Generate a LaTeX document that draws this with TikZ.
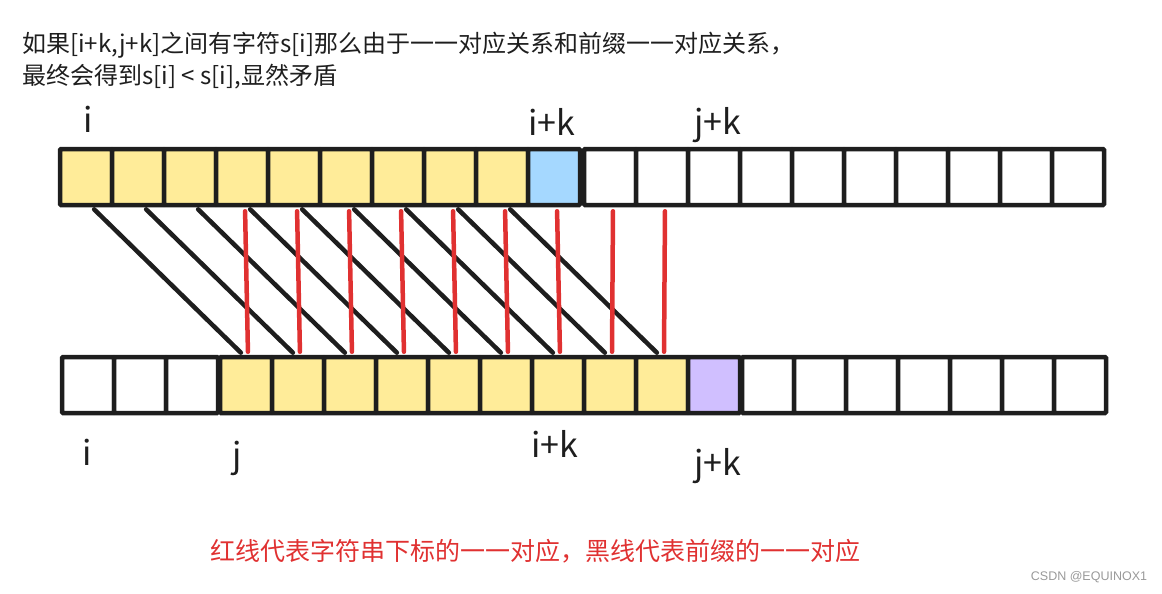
\documentclass[tikz,border=0pt]{standalone}
\usepackage{fontspec}
\newfontfamily\cjk{Noto Sans CJK SC}
\setsansfont{Liberation Sans}
\definecolor{inkblack}{HTML}{1E1E1E}
\definecolor{cellyellow}{HTML}{FFEC99}
\definecolor{cellblue}{HTML}{A5D8FF}
\definecolor{cellpurple}{HTML}{D0BFFF}
\definecolor{linered}{HTML}{E03131}
\tikzset{
  cell/.style={draw=inkblack, line width=4.5pt, minimum width=52pt, minimum height=56pt, inner sep=0pt, rounded corners=1pt},
  pfxline/.style={draw=inkblack, line width=4.5pt, line cap=round, shorten <=3pt, shorten >=3pt},
  idxline/.style={draw=linered, line width=4.5pt, line cap=round, shorten <=4pt, shorten >=3pt},
  idxlabel/.style={text=inkblack, font=\cjk\fontsize{34}{34}\selectfont},
  note/.style={text=inkblack, anchor=west, inner sep=0pt, font=\cjk\fontsize{24}{28}\selectfont}
}

\begin{document}
\begin{tikzpicture}[x=1pt,y=-1pt]
\useasboundingbox (0,0) rectangle (1162,594);

\node[note] (line1) at (22,45) {如果[i+k,j+k]之间有字符s[i]那么由于一一对应关系和前缀一一对应关系，};
\node[note] (line2) at (22,77) {最终会得到s[i] < s[i],显然矛盾};

\foreach \k in {0,...,8} \node[cell, fill=cellyellow] (top\k) at ({86+52*\k},177) {};
\node[cell, fill=cellblue] (top9) at (554,177) {};
\foreach \k in {10,...,19} \node[cell, fill=white] (top\k) at ({610+52*(\k-10)},177) {};

\foreach \k in {0,1,2} \node[cell, fill=white] (bot\k) at ({88+52*\k},385) {};
\foreach \k in {3,...,11} \node[cell, fill=cellyellow] (bot\k) at ({246+52*(\k-3)},385) {};
\node[cell, fill=cellpurple] (bot12) at (714,385) {};
\foreach \k in {13,...,19} \node[cell, fill=white] (bot\k) at ({768+52*(\k-13)},385) {};

\foreach \k [count=\j from 3] in {0,...,8}
  \draw[pfxline] ([xshift=6pt]top\k.south) -- ([xshift=-3pt]bot\j.north);
\foreach \k in {3,...,11}
  \draw[idxline] ([xshift=3pt]top\k.south) -- ([xshift=2pt]bot\k.north);

\node[idxlabel] (ti) at (88,119) {i};
\node[idxlabel] (tik) at (552,122) {i+k};
\node[idxlabel] (tjk) at (718,125) {j+k};
\node[idxlabel] (bi) at (87,452) {i};
\node[idxlabel] (bj) at (237,458) {j};
\node[idxlabel] (bik) at (555,444) {i+k};
\node[idxlabel] (bjk) at (718,466) {j+k};

\node[text=linered, font=\cjk\fontsize{25}{28}\selectfont] (legend) at (535,551) {红线代表字符串下标的一一对应，黑线代表前缀的一一对应};
\node[text=black!40, font=\sffamily\fontsize{12.5}{14}\selectfont] (wm) at (1089,577) {CSDN @EQUINOX1};
\end{tikzpicture}
\end{document}
